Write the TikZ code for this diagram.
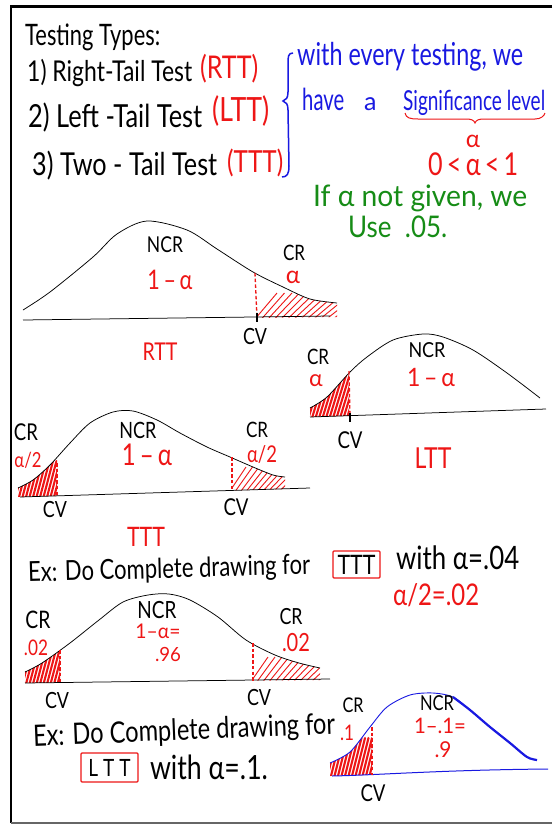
\documentclass[tikz,border=0pt]{standalone}
\usepackage{fontspec}
\setmainfont{Lato}
\usepackage{graphicx}
\definecolor{hred}{RGB}{238,22,22}
\definecolor{hblue}{RGB}{25,25,225}
\definecolor{hgreen}{RGB}{22,140,22}
\newcommand\hs[3]{\scalebox{1}[#2]{\resizebox{#1pt}{!}{#3}}}
\newcommand\hw[2]{\hs{#1}{1.25}{#2}}
\def\cRTT{plot[smooth] coordinates {(23,310) (50,292) (93,257) (117,234) (147,221) (187,230) (217,249) (253,272) (283,287) (310,299) (337,303)}}
\def\cLTT{plot[smooth] coordinates {(310,408) (327,397) (350,372) (367,357) (393,340) (423,334) (443,337) (473,350) (507,373) (540,398)}}
\def\cTTT{plot[smooth] coordinates {(18,488) (33,480) (50,465) (70,443) (90,423) (113,412) (133,411) (157,420) (180,433) (207,447) (230,457) (253,467) (273,475) (285,477)}}
\def\cEx{plot[smooth] coordinates {(25,672) (42,663) (70,643) (99,620) (123,602) (148,595) (169,594) (190,600) (218,617) (246,640) (275,655) (299,663) (320,668)}}
\def\cBlue{plot[smooth] coordinates {(330,763) (350,752) (370,727) (387,707) (410,695) (433,693) (453,697) (470,710) (490,727) (510,743) (527,757) (537,760)}}
\begin{document}
\begin{tikzpicture}[x=1pt,y=-1pt,
  t/.style={inner sep=0pt,anchor=base west},
  lb/.style={inner sep=0pt},
  curve/.style={line width=0.75pt},
  axisline/.style={line width=0.75pt},
  cvdash/.style={hred,dashed,dash pattern=on 3.5pt off 2.2pt,line width=1.3pt},
  hl/.style={hred,line width=0.9pt},
  hd/.style={hred,line width=2.1pt,line cap=round},
  redbox/.style={draw=hred,line width=1.3pt,inner sep=0pt,rounded corners=1pt}]
\useasboundingbox (0,0) rectangle (552,825);
\fill[white] (0,0) rectangle (552,825);
% frame
\draw[line width=2.6pt] (552,6.5) -- (11,6.5) -- (11,823);
\draw[black!60, line width=1.6pt] (11,823) -- (552,823);

% heading list
\node[t] (tt) at (25,45) {\hs{135}{1.35}{Testing Types:}};
\node[t] (l1) at (27,81) {\hw{165}{1) Right-Tail Test}};
\node[t,text=hred] (l1r) at (200,78) {\hw{58}{(RTT)}};
\node[t] (l2) at (28,127) {\hw{174}{2) Left -Tail Test}};
\node[t,text=hred] (l2r) at (212,121) {\hw{57}{(LTT)}};
\node[t] (l3) at (32,175) {\hw{185}{3) Two - Tail Test}};
\node[t,text=hred] (l3r) at (227,172) {\hw{56}{(TTT)}};

% blue note
\draw[hblue,line width=1.5pt] (293,53) .. controls (288,53) and (288,57) .. (288,64) -- (288,92) .. controls (288,98) and (286,100) .. (283,101) .. controls (286,102) and (288,104) .. (288,110) -- (289,166) .. controls (289,174) and (287,177) .. (282,177);
\node[t,text=hblue] (b1) at (297,65) {\hs{226}{1.35}{with every testing, we}};
\node[t,text=hblue] (b2) at (302,110) {\hs{42}{1.5}{have}};
\node[t,text=hblue,font=\fontsize{25}{25}\selectfont] (b3) at (364,110) {a};
\node[t,text=hblue] (b4) at (403,110) {\hs{142}{1.45}{Significance level}};
\draw[hred,line width=1pt] (405,113) .. controls (406,118) and (410,119) .. (418,119) -- (466,119) .. controls (471,119) and (474,120) .. (475,123) .. controls (476,120) and (479,119) .. (484,119) -- (535,119) .. controls (541,119) and (544,116) .. (545,113);
\node[lb,text=hred,font=\fontsize{24}{24}\selectfont] (al) at (473,141) {α};
\node[t,text=hred] (ineq) at (428,175) {\hw{90}{0\,<\,α\,<\,1}};
\node[t,text=hgreen] (g1) at (313,206) {\hs{214}{1.05}{If α not given, we}};
\node[t,text=hgreen] (g2) at (348,237) {\hs{99}{1.15}{Use\ \ .05.}};

% ---------- RTT ----------
\begin{scope}
 \clip (257,200) rectangle (350,330);
 \clip \cRTT -- (337,317) -- (23,321) -- cycle;
 \foreach \i in {0,...,13} \draw[hl] ({255+\i*6.5},319) -- ++({22+\i},-26);
\end{scope}
\draw[curve] \cRTT;
\draw[axisline] (23,320) -- (330,316);
\draw[cvdash] (255,273) -- (257,318);
\draw[line width=2pt] (257,313) -- (257,322);
\node[lb] (rncr) at (165,245) {\hw{36}{NCR}};
\node[lb,text=hred] (rna) at (170,280) {\hw{45}{1\,–\,α}};
\node[lb] (rcr) at (294,253) {\hw{22}{CR}};
\node[lb,text=hred,font=\fontsize{24}{24}\selectfont] (ra) at (293,277) {α};
\node[lb] (rcv) at (255,337) {\hw{24}{CV}};
\node[lb,text=hred] (rname) at (160,352) {\hw{35}{RTT}};

% ---------- LTT ----------
\begin{scope}
 \clip (300,330) rectangle (349,420);
 \clip \cLTT -- (540,410) -- (310,417) -- cycle;
 \foreach \i in {0,...,16} \draw[hd] ({298+\i*3.5},418) -- ++(14,-46);
\end{scope}
\draw[curve] \cLTT;
\draw[axisline] (310,417) -- (546,409);
\draw[cvdash] (349,371) -- (350,417);
\draw[line width=2pt] (350,413) -- (350,422);
\node[lb] (lcr) at (318,357) {\hw{22}{CR}};
\node[lb,text=hred,font=\fontsize{23}{23}\selectfont] (la) at (316,381) {α};
\node[lb] (lncr) at (427,350) {\hs{37}{1.15}{NCR}};
\node[lb,text=hred] (lna) at (431,377) {\hs{48}{1.1}{1\,–\,α}};
\node[lb] (lcv) at (350,440) {\hw{25}{CV}};
\node[lb,text=hred] (lname) at (433,458) {\hw{37}{LTT}};

% ---------- TTT ----------
\begin{scope}
 \clip (10,400) rectangle (57,500);
 \clip \cTTT -- (285,489) -- (18,497) -- cycle;
 \foreach \i in {0,...,14} \draw[hd] ({8+\i*3.5},499) -- ++(10,-38);
\end{scope}
\begin{scope}
 \clip (232,400) rectangle (300,500);
 \clip \cTTT -- (285,489) -- (18,497) -- cycle;
 \foreach \i in {0,...,10} \draw[hl] ({230+\i*5.5},491) -- ++({16+\i},-24);
\end{scope}
\draw[curve] \cTTT;
\draw[axisline] (20,497) -- (310,488);
\draw[cvdash] (57,463) -- (57,497);
\draw[cvdash] (232,457) -- (232,489);
\node[lb] (tcr1) at (26,432) {\hw{24}{CR}};
\node[lb,text=hred] (ta1) at (28,460) {\hw{27}{α/2}};
\node[lb] (tncr) at (138,430) {\hw{37}{NCR}};
\node[lb,text=hred] (tna) at (147,455) {\hw{50}{1\,–\,α}};
\node[lb] (tcr2) at (257,430) {\hw{22}{CR}};
\node[lb,text=hred] (ta2) at (262,455) {\hw{30}{α/2}};
\node[lb] (tcv1) at (55,510) {\hw{24}{CV}};
\node[lb] (tcv2) at (236,507) {\hw{25}{CV}};
\node[lb,text=hred] (tname) at (146,537) {\hw{38}{TTT}};

% ---------- Example 1 ----------
\node[anchor=west,inner sep=0pt,rotate=1.5] (ex1) at (28,574) {\hw{282}{Ex: Do Complete drawing for}};
\node[redbox,minimum width=47pt,minimum height=27pt] (box1) at (356.5,564.5) {\hw{38}{TTT}};
\node[t] (ex1w) at (396,569) {\hw{123}{with α=.04}};
\node[t,text=hred] (ex1h) at (393,605) {\hw{86}{α/2=.02}};
\begin{scope}
 \clip (15,580) rectangle (60,690);
 \clip \cEx -- (320,680) -- (25,683) -- cycle;
 \foreach \i in {0,...,13} \draw[hd] ({15+\i*3.5},686) -- ++(10,-38);
\end{scope}
\begin{scope}
 \clip (253,580) rectangle (330,690);
 \clip \cEx -- (320,680) -- (25,683) -- cycle;
 \foreach \i in {0,...,12} \draw[hl] ({250+\i*6},683) -- ++({18+\i},-26);
\end{scope}
\draw[curve] \cEx;
\draw[axisline] (25,683) -- (330,679);
\draw[cvdash] (60,650) -- (60,683);
\draw[cvdash] (253,643) -- (253,681);
\node[lb] (ecr1) at (38,620) {\hw{25}{CR}};
\node[lb,text=hred] (ev1) at (36,648) {\hw{24}{.02}};
\node[lb] (encr) at (157,610) {\hw{39}{NCR}};
\node[lb,text=hred] (ena) at (158,631) {\hs{45}{1.05}{1–α=}};
\node[lb,text=hred] (env) at (168,654) {\hs{26}{1.05}{.96}};
\node[lb] (ecr2) at (291,617) {\hw{23}{CR}};
\node[lb,text=hred] (ev2) at (296,643) {\hw{28}{.02}};
\node[lb] (ecv1) at (57,700) {\hw{24}{CV}};
\node[lb] (ecv2) at (259,697) {\hw{24}{CV}};

% ---------- Example 2 ----------
\node[anchor=west,inner sep=0pt,rotate=2.3] (ex2) at (33,738) {\hw{302}{Ex: Do Complete drawing for}};
\node[redbox,minimum width=57pt,minimum height=29pt] (box2) at (109.5,767.5) {\hw{42}{L T T}};
\node[lb] (ex2w) at (209,767) {\hw{118}{with α=.1.}};
\begin{scope}
 \clip (320,700) rectangle (372,780);
 \clip \cBlue -- (537,770) -- (330,776) -- cycle;
 \foreach \i in {0,...,15} \draw[hd] ({320+\i*3.5},778) -- ++(10,-40);
\end{scope}
\draw[hblue,line width=0.9pt] \cBlue;
\draw[hblue,line width=2.2pt] plot[smooth] coordinates {(453,697) (470,710) (490,727) (510,743) (527,757) (537,760)};
\draw[hblue,line width=1pt] (332,776) .. controls (380,775) and (440,770) .. (548,769);
\draw[cvdash] (372,727) -- (372,775);
\node[lb] (bcr) at (353,705) {\hw{21}{CR}};
\node[lb,text=hred] (bv) at (347,733) {\hw{14}{.1}};
\node[lb] (bncr) at (437,703) {\hw{34}{NCR}};
\node[lb,text=hred] (bna) at (440,726) {\hs{52}{1.05}{1–.1=}};
\node[lb,text=hred] (bnv) at (443,750) {\hs{17}{1.05}{.9}};
\node[lb] (bcv) at (373,793) {\hw{25}{CV}};
\end{tikzpicture}
\end{document}
